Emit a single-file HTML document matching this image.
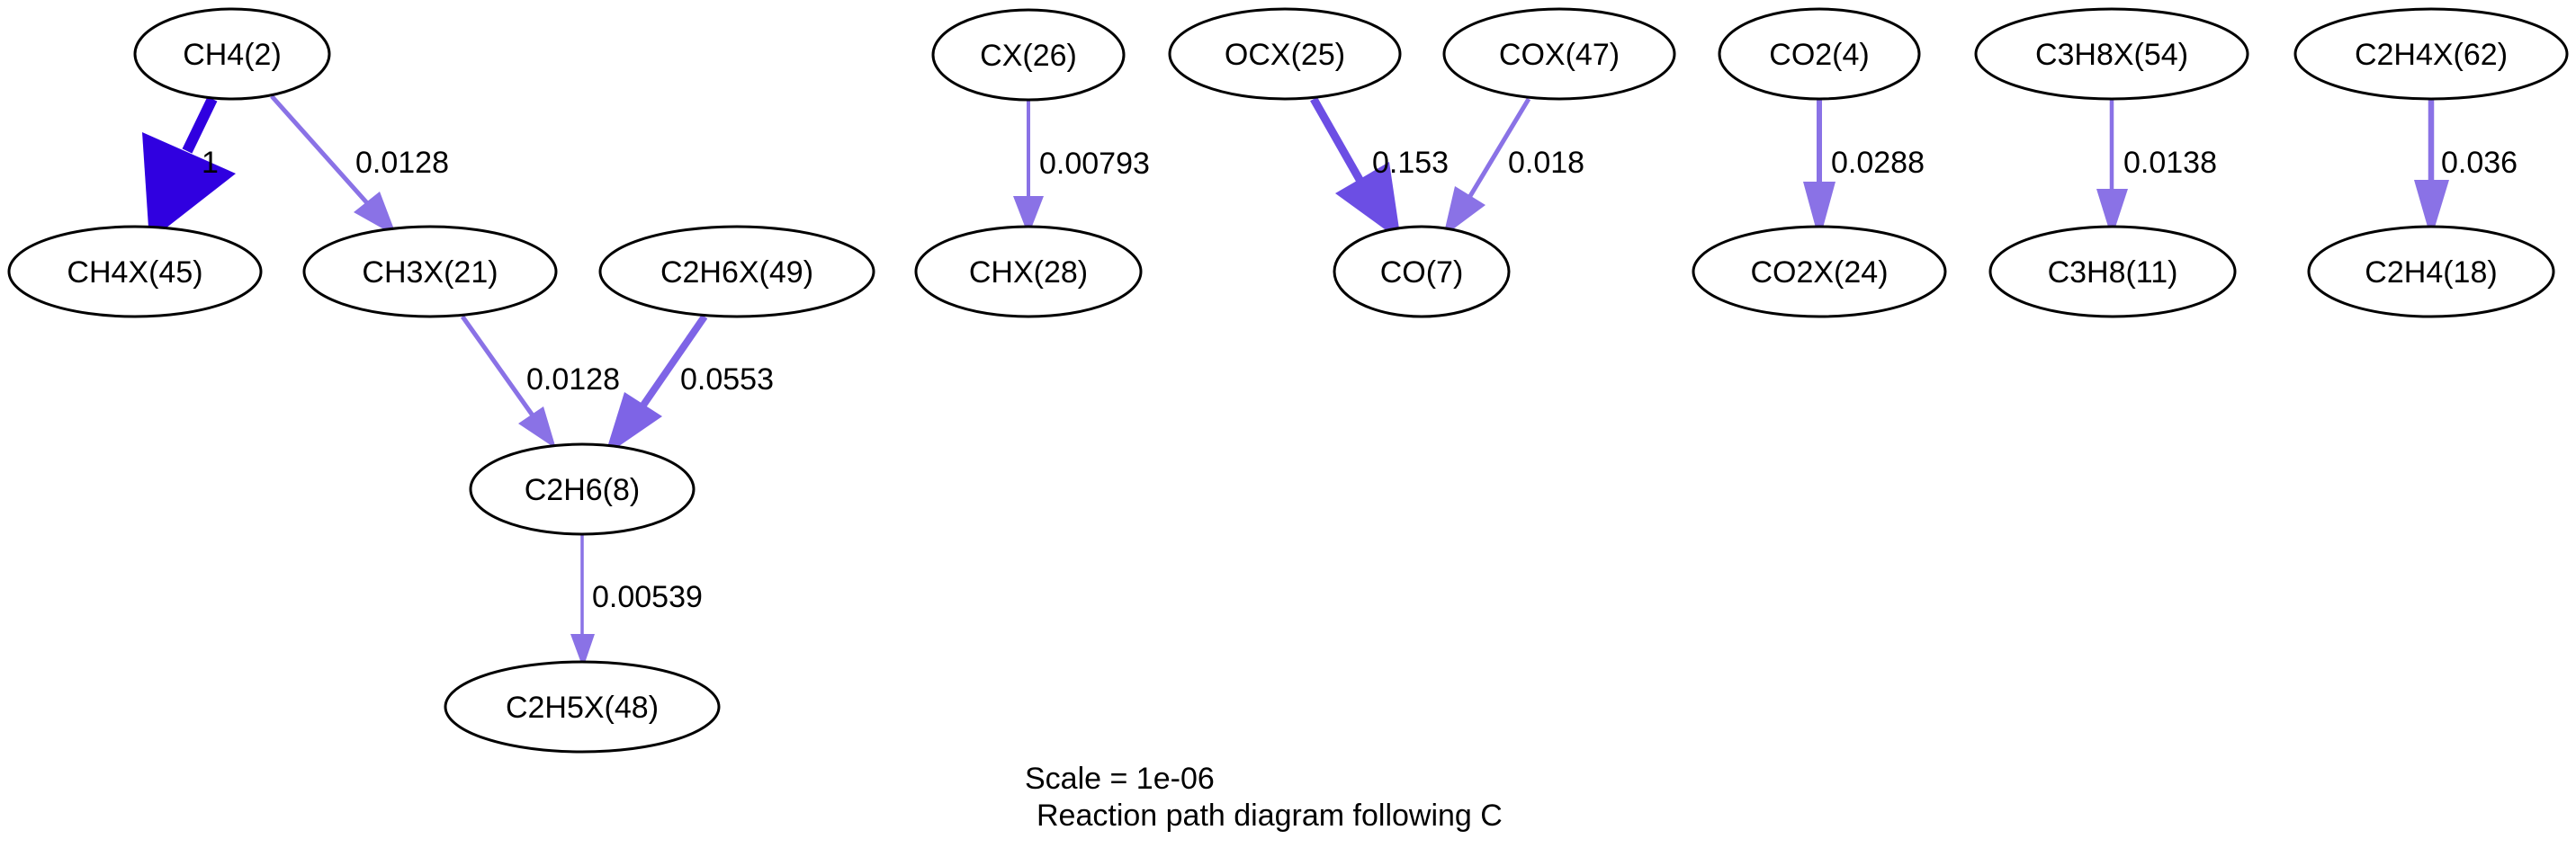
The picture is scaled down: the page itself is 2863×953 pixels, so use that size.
<!DOCTYPE html>
<html><head><meta charset="utf-8"><style>
html,body{margin:0;padding:0;background:#fff;}
svg{display:block;}
text{font-family:"Liberation Sans",Arial,sans-serif;font-size:34px;fill:#000;}
</style></head><body>
<svg width="2863" height="953" viewBox="0 0 2863 953">
<rect width="2863" height="953" fill="#fff"/>
<!-- edges -->
<g>
<line x1="236" y1="110" x2="208" y2="168" stroke="#3000e0" stroke-width="12"/>
<polygon points="158,147 262,193 166,268" fill="#3000e0"/>
<text x="224" y="192">1</text></g>
<g>
<line x1="302" y1="107" x2="410" y2="228" stroke="#8a72e6" stroke-width="5"/>
<polygon points="393,236 422,213 441,263" fill="#8a72e6"/>
<text x="395" y="192">0.0128</text></g>
<g>
<line x1="514" y1="352" x2="592" y2="462" stroke="#8a72e6" stroke-width="5"/>
<polygon points="576,471 604,452 618,499" fill="#8a72e6"/>
<text x="585" y="433">0.0128</text></g>
<g>
<line x1="783" y1="352" x2="714" y2="452" stroke="#7e64e6" stroke-width="8"/>
<polygon points="694,436 736,463 672,507" fill="#7e64e6"/>
<text x="756" y="433">0.0553</text></g>
<g>
<line x1="647" y1="595" x2="647" y2="707" stroke="#8a72e6" stroke-width="3.5"/>
<polygon points="634,705 661,705 648,743" fill="#8a72e6"/>
<text x="658" y="675">0.00539</text></g>
<g>
<line x1="1143" y1="111" x2="1143" y2="220" stroke="#8a72e6" stroke-width="4"/>
<polygon points="1126,218 1160,218 1143,262" fill="#8a72e6"/>
<text x="1155" y="193">0.00793</text></g>
<g>
<line x1="1460" y1="110" x2="1514" y2="205" stroke="#6c4ee4" stroke-width="9"/>
<polygon points="1484,215 1544,180 1557,268" fill="#6c4ee4"/>
<text x="1525" y="192">0.153</text></g>
<g>
<line x1="1699" y1="110" x2="1634" y2="218" stroke="#8a72e6" stroke-width="5"/>
<polygon points="1617,207 1651,228 1604,263" fill="#8a72e6"/>
<text x="1676" y="192">0.018</text></g>
<g>
<line x1="2022" y1="111" x2="2022" y2="205" stroke="#8a72e6" stroke-width="6"/>
<polygon points="2004,202 2040,202 2022,268" fill="#8a72e6"/>
<text x="2035" y="192">0.0288</text></g>
<g>
<line x1="2347" y1="111" x2="2347" y2="212" stroke="#8a72e6" stroke-width="4.5"/>
<polygon points="2330,210 2365,210 2347,265" fill="#8a72e6"/>
<text x="2360" y="192">0.0138</text></g>
<g>
<line x1="2702" y1="111" x2="2702" y2="203" stroke="#8a72e6" stroke-width="6.5"/>
<polygon points="2683,200 2722,200 2702,266" fill="#8a72e6"/>
<text x="2713" y="192">0.036</text></g>
<!-- nodes -->
<g fill="#fff" stroke="#000" stroke-width="3">
<ellipse cx="258" cy="60" rx="108" ry="50"/>
<ellipse cx="150" cy="302" rx="140" ry="50"/>
<ellipse cx="478" cy="302" rx="140" ry="50"/>
<ellipse cx="819" cy="302" rx="152" ry="50"/>
<ellipse cx="647" cy="544" rx="124" ry="50"/>
<ellipse cx="647" cy="786" rx="152" ry="50"/>
<ellipse cx="1143" cy="61" rx="106" ry="50"/>
<ellipse cx="1143" cy="302" rx="125" ry="50"/>
<ellipse cx="1428" cy="60" rx="128" ry="50"/>
<ellipse cx="1733" cy="60" rx="128" ry="50"/>
<ellipse cx="1580" cy="302" rx="97" ry="50"/>
<ellipse cx="2022" cy="60" rx="111" ry="50"/>
<ellipse cx="2022" cy="302" rx="140" ry="50"/>
<ellipse cx="2347" cy="60" rx="151" ry="50"/>
<ellipse cx="2348" cy="302" rx="136" ry="50"/>
<ellipse cx="2702" cy="60" rx="151" ry="50"/>
<ellipse cx="2702" cy="302" rx="136" ry="50"/>
</g>
<g text-anchor="middle">
<text x="258" y="72">CH4(2)</text>
<text x="150" y="314">CH4X(45)</text>
<text x="478" y="314">CH3X(21)</text>
<text x="819" y="314">C2H6X(49)</text>
<text x="647" y="556">C2H6(8)</text>
<text x="647" y="798">C2H5X(48)</text>
<text x="1143" y="73">CX(26)</text>
<text x="1143" y="314">CHX(28)</text>
<text x="1428" y="72">OCX(25)</text>
<text x="1733" y="72">COX(47)</text>
<text x="1580" y="314">CO(7)</text>
<text x="2022" y="72">CO2(4)</text>
<text x="2022" y="314">CO2X(24)</text>
<text x="2347" y="72">C3H8X(54)</text>
<text x="2348" y="314">C3H8(11)</text>
<text x="2702" y="72">C2H4X(62)</text>
<text x="2702" y="314">C2H4(18)</text>
</g>
<text x="1139" y="877">Scale = 1e-06</text>
<text x="1152" y="918">Reaction path diagram following C</text>
</svg>
</body></html>
